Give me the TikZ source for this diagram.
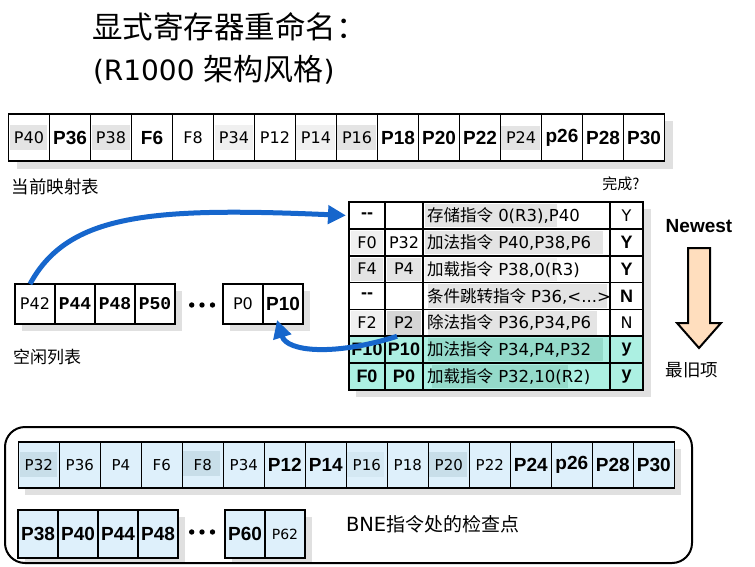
\documentclass[tikz,border=0pt]{standalone}
\usepackage{fontspec}
\setmainfont{DejaVu Sans}
\newfontfamily\cjk{Noto Sans CJK SC}
\newfontfamily\hb{Liberation Sans}
\newfontfamily\mb{Liberation Mono}
\usetikzlibrary{arrows.meta}
\definecolor{shad}{RGB}{224,224,224}
\definecolor{ga}{RGB}{228,228,228}
\definecolor{gb}{RGB}{240,240,240}
\definecolor{gc}{RGB}{214,214,214}
\definecolor{teal1}{RGB}{172,240,226}
\definecolor{teal2}{RGB}{148,218,202}
\definecolor{lblue}{RGB}{222,240,251}
\definecolor{dblue}{RGB}{200,222,233}
\definecolor{mblue}{RGB}{212,232,243}
\definecolor{peach}{RGB}{255,222,190}
\definecolor{arrowblue}{RGB}{22,102,204}
\newcommand{\instr}[1]{\makebox[179pt][l]{#1}}
\begin{document}
\begin{tikzpicture}[x=1pt,y=-1pt,
  every node/.style={inner sep=0pt, outer sep=0pt},
  cellbox/.style={draw, line width=1.6pt, anchor=north west, minimum width=41pt, minimum height=47pt},
  flbox/.style={cellbox, fill=white, minimum width=40pt, minimum height=40pt},
  bkbox/.style={cellbox, minimum width=40pt, minimum height=48pt},
  tn/.style={font=\fontsize{16}{16}\selectfont},
  tc/.style={font=\fontsize{16.5}{16.5}\selectfont},
  tsm/.style={font=\fontsize{15}{15}\selectfont},
  tb/.style={font=\fontsize{19}{19}\selectfont\hb\bfseries},
  tbt/.style={font=\fontsize{18}{18}\selectfont\hb\bfseries},
  tm/.style={font=\fontsize{18}{18}\selectfont\mb\bfseries},
  tsx/.style={font=\fontsize{14}{14}\selectfont},
  lab/.style={font=\fontsize{17.5}{17.5}\selectfont\cjk, anchor=west},
  colA/.style={draw, line width=1.6pt, anchor=north west, minimum height=26.86pt, minimum width=36pt},
  colB/.style={colA, minimum width=38pt},
  colC/.style={colA, minimum width=187pt, inner xsep=4pt},
  colD/.style={colA, minimum width=33pt},
  bluearr/.style={draw=arrowblue, line width=5pt, -{Triangle[length=18pt,width=18pt]}},
  dot/.style={fill=black}
]
\useasboundingbox (0,0) rectangle (755,567);

% ---------- title ----------
\node[anchor=west, font=\fontsize{30.5}{30.5}\selectfont\cjk] (title1) at (92,27) {显式寄存器重命名：};
\node[anchor=west, font=\fontsize{28}{28}\selectfont] (title2) at (93,70) {(R1000 {\cjk\fontsize{30}{30}\selectfont 架构风格})};

% ---------- current map table ----------
\fill[shad] (16.5,121) rectangle (673,169);
\fill[white] (8.5,114) rectangle (664.5,161);
\fill[ga] (9.5,125) rectangle (47,150);
\fill[ga] (92,125) rectangle (130,150);
\fill[gb] (215,125) rectangle (253,150);
\fill[gb] (296,125) rectangle (335,150);
\fill[ga] (337,125) rectangle (376,150);
\fill[ga] (501,126) rectangle (540,150);
\foreach \t/\s [count=\i from 0] in {P40/tn,P36/tb,P38/tn,F6/tb,F8/tn,P34/tn,P12/tn,P14/tn,P16/tn,P18/tb,P20/tb,P22/tb,P24/tn,p26/tb,P28/tb,P30/tb}
  \node[cellbox,\s] (m\i) at ({8.5+41*\i},114) {\t};
\node[lab] (maplab) at (12,187) {当前映射表};

% ---------- free list ----------
\fill[shad] (22,291) rectangle (182,331);
\fill[shad] (230,291) rectangle (310,331);
\node[flbox,tn] (fl1) at (15,284) {P42};
\node[flbox,tm] (fl2) at (55,284) {P44};
\node[flbox,tm] (fl3) at (95,284) {P48};
\node[flbox,tm] (fl4) at (135,284) {P50};
\fill[dot] (191.7,305) circle (2.7pt) (202,305) circle (2.7pt) (212.5,305) circle (2.7pt);
\node[flbox,tn] (fl5) at (223,284) {P0};
\node[flbox,tb] (fl6) at (263,284) {P10};
\node[lab, font=\fontsize{17}{17}\selectfont\cjk] (fllab) at (13,357) {空闲列表};

% ---------- active list ----------
\node[font=\fontsize{15}{15}\selectfont\cjk] (donelab) at (621,184) {完成?};
\fill[shad] (356,209) rectangle (651,397);
\fill[white] (349,202) rectangle (643,390);
\fill[teal1] (349,336.29) rectangle (643,390);
\fill[ga] (425,204) rectangle (557,227);
\fill[gb] (351,231) rectangle (383,254);
\fill[ga] (425,231) rectangle (603,254);
\fill[ga] (351,258) rectangle (383,281);
\fill[ga] (387,258) rectangle (421,281);
\fill[gb] (425,258) rectangle (557,281);
\fill[ga] (428,284) rectangle (607,308);
\fill[gb] (351,311) rectangle (383,335);
\fill[gc] (387,311) rectangle (421,335);
\fill[ga] (428,311) rectangle (597,335);
\fill[teal2] (428,338) rectangle (603,361);
\fill[teal2] (432,365) rectangle (568,388);

\node[colA,tbt] (t11) at (349,202) {--};
\node[colB,tn]  (t12) at (385,202) {};
\node[colC,tc]  (t13) at (423,202) {\instr{{\cjk 存储指令} 0(R3),P40}};
\node[colD,tn]  (t14) at (610,202) {Y};

\node[colA,tn]  (t21) at (349,228.86) {F0};
\node[colB,tn]  (t22) at (385,228.86) {P32};
\node[colC,tc]  (t23) at (423,228.86) {\instr{{\cjk 加法指令} P40,P38,P6}};
\node[colD,tbt] (t24) at (610,228.86) {Y};

\node[colA,tn]  (t31) at (349,255.71) {F4};
\node[colB,tn]  (t32) at (385,255.71) {P4};
\node[colC,tc]  (t33) at (423,255.71) {\instr{{\cjk 加载指令} P38,0(R3)}};
\node[colD,tbt] (t34) at (610,255.71) {Y};

\node[colA,tbt] (t41) at (349,282.57) {--};
\node[colB,tn]  (t42) at (385,282.57) {};
\node[colC,tc]  (t43) at (423,282.57) {\instr{{\cjk 条件跳转指令} P36,<...>}};
\node[colD,tbt] (t44) at (610,282.57) {N};

\node[colA,tn]  (t51) at (349,309.43) {F2};
\node[colB,tn]  (t52) at (385,309.43) {P2};
\node[colC,tc]  (t53) at (423,309.43) {\instr{{\cjk 除法指令} P36,P34,P6}};
\node[colD,tn]  (t54) at (610,309.43) {N};

\node[colA,tbt] (t61) at (349,336.29) {F10};
\node[colB,tbt] (t62) at (385,336.29) {P10};
\node[colC,tc]  (t63) at (423,336.29) {\instr{{\cjk 加法指令} P34,P4,P32}};
\node[colD,tbt] (t64) at (610,336.29) {y};

\node[colA,tbt] (t71) at (349,363.14) {F0};
\node[colB,tbt] (t72) at (385,363.14) {P0};
\node[colC,tc]  (t73) at (423,363.14) {\instr{{\cjk 加载指令} P32,10(R2)}};
\node[colD,tbt] (t74) at (610,363.14) {y};

% ---------- newest / oldest ----------
\node[font=\fontsize{19}{19}\selectfont\hb\bfseries] (newest) at (699,226) {Newest};
\draw[line width=2pt, fill=peach, line join=miter] (688,248) -- (710,248) -- (710,323) -- (721,323) -- (699,348) -- (677,323) -- (688,323) -- cycle;
\node[font=\fontsize{17.5}{17.5}\selectfont\cjk] (oldest) at (692,370) {最旧项};

% ---------- arrows ----------
\draw[bluearr] ([xshift=-5pt]fl1.north) .. controls (68,214) and (150,207) .. ([xshift=-3pt]t11.west);
\draw[bluearr] ([xshift=12pt]t62.north west) .. controls (335,356) and (287,352) .. ([xshift=-6pt,yshift=4pt]fl6.south);

% ---------- checkpoint ----------
\fill[shad] (25,449) rectangle (681,495);
\fill[lblue] (18.3,442) rectangle (674.3,488);
\fill[dblue] (19.5,452) rectangle (57,477);
\fill[dblue] (182,451) rectangle (220,476);
\fill[mblue] (346,452) rectangle (384,477);
\fill[dblue] (428,452) rectangle (467,477);
\foreach \t/\s [count=\i from 0] in {P32/tsm,P36/tsm,P4/tsm,F6/tsm,F8/tsm,P34/tsm,P12/tb,P14/tb,P16/tsm,P18/tsm,P20/tsm,P22/tsm,P24/tb,p26/tb,P28/tb,P30/tb}
  \node[cellbox,\s,minimum height=46pt] (c\i) at ({18.3+41*\i},442) {\t};

\fill[shad] (25,517) rectangle (185,563);
\fill[shad] (232,517) rectangle (312,563);
\fill[lblue] (18,510) rectangle (178,558);
\fill[lblue] (225,510) rectangle (305,558);
\node[bkbox,tb] (k1) at (18,510) {P38};
\node[bkbox,tb] (k2) at (58,510) {P40};
\node[bkbox,tb] (k3) at (98,510) {P44};
\node[bkbox,tb] (k4) at (138,510) {P48};
\fill[dot] (191.7,532) circle (2.7pt) (202,532) circle (2.7pt) (212.5,532) circle (2.7pt);
\node[bkbox,tb] (k5) at (225,510) {P60};
\node[bkbox,tsx] (k6) at (265,510) {P62};
\node[anchor=west, font=\fontsize{19.5}{19.5}\selectfont] (cplab) at (346,524) {BNE{\cjk\fontsize{19}{19}\selectfont 指令处的检查点}};
\draw[line width=2pt, rounded corners=20pt] (5,427) rectangle (692,563);
\end{tikzpicture}
\end{document}
